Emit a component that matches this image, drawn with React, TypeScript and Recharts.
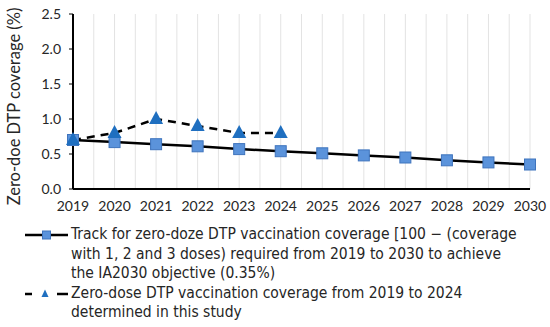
import { LineChart, Line, XAxis, YAxis, CartesianGrid, Label } from "recharts";

const years = [2019, 2020, 2021, 2022, 2023, 2024, 2025, 2026, 2027, 2028, 2029, 2030];
// track towards the IA2030 objective
const trackValues = [0.7, 0.67, 0.64, 0.61, 0.57, 0.54, 0.51, 0.48, 0.45, 0.41, 0.38, 0.35];
// coverage determined in the study, 2019-2024
const studyValues = [0.7, 0.8, 1.0, 0.9, 0.8, 0.8];
const yTicks = [0, 0.5, 1.0, 1.5, 2.0, 2.5];
// gridlines every half year; only whole years get a label
const xTicks = [
  2019, 2019.5, 2020, 2020.5, 2021, 2021.5, 2022, 2022.5, 2023, 2023.5, 2024, 2024.5,
  2025, 2025.5, 2026, 2026.5, 2027, 2027.5, 2028, 2028.5, 2029, 2029.5, 2030,
];
const trackLabel = [
  "Track for zero-doze DTP vaccination coverage [100 \u2212  (coverage",
  "with 1, 2 and 3 doses) required from 2019 to 2030 to achieve",
  "the IA2030 objective (0.35%)",
];
const studyLabel = ["Zero-dose DTP vaccination coverage from 2019 to 2024", "determined in this study"];

const FONT = "Lato, 'Open Sans', sans-serif";
const NARROW = "'Liberation Sans Narrow', 'DejaVu Sans Condensed', Lato, sans-serif";
const SQUARE_FILL = "#5b93db";
const SQUARE_STROKE = "#3f74bd";
const TRI_FILL = "#1f6fc0";

const data = years.map((year, i) => ({
  year,
  track: trackValues[i],
  study: i < studyValues.length ? studyValues[i] : null,
}));

function SquareDot(props: any) {
  const { cx, cy } = props;
  if (cx == null || cy == null) return null;
  return <rect x={cx - 5.5} y={cy - 5.5} width={11} height={11} fill={SQUARE_FILL} stroke={SQUARE_STROKE} strokeWidth={1} />;
}

function TriangleDot(props: any) {
  const { cx, cy } = props;
  if (cx == null || cy == null) return null;
  return <polygon points={`${cx},${cy - 8} ${cx - 7},${cy + 5} ${cx + 7},${cy + 5}`} fill={TRI_FILL} />;
}

function LegendBlock() {
  const textStyle = { fontSize: 15.5, lineHeight: "19.5px", color: "#262626", fontFamily: NARROW };
  return (
    <div style={{ position: "absolute", left: 23, top: 225, width: 520 }}>
      <div style={{ display: "flex", alignItems: "flex-start" }}>
        <svg width={48} height={19.5} style={{ flexShrink: 0 }}>
          <line x1={2} y1={10} x2={45} y2={10} stroke="#000" strokeWidth={2.5} />
          <rect x={19.5} y={6} width={8} height={8} fill={SQUARE_FILL} stroke={SQUARE_STROKE} />
        </svg>
        <div style={textStyle}>
          {trackLabel.map((t) => (
            <div key={t}>{t}</div>
          ))}
        </div>
      </div>
      <div style={{ display: "flex", alignItems: "flex-start" }}>
        <svg width={48} height={19.5} style={{ flexShrink: 0 }}>
          <line x1={2} y1={10} x2={9} y2={10} stroke="#000" strokeWidth={2.5} />
          <line x1={34} y1={10} x2={45} y2={10} stroke="#000" strokeWidth={2.5} />
          <polygon points="22,5.5 18.5,13 25.5,13" fill={TRI_FILL} />
        </svg>
        <div style={textStyle}>
          {studyLabel.map((t) => (
            <div key={t}>{t}</div>
          ))}
        </div>
      </div>
    </div>
  );
}

export default function App() {
  return (
    <div style={{ position: "absolute", left: 0, top: 0, width: 550, height: 327, background: "#fff" }}>
      <LineChart width={550} height={327} data={data} margin={{ top: 14, right: 20, bottom: 108, left: 0 }}>
        <CartesianGrid horizontal={false} stroke="#e3e3e3" strokeWidth={1} />
        <XAxis
          dataKey="year"
          type="number"
          domain={[2019, 2030]}
          ticks={xTicks}
          interval={0}
          tickFormatter={(v: number) => (Number.isInteger(v) ? String(v) : "")}
          tickLine={false}
          tickSize={6}
          tickMargin={6}
          axisLine={{ stroke: "#000", strokeWidth: 2 }}
          tick={{ fontSize: 14, fill: "#262626", fontFamily: FONT }}
          height={30}
        />
        <YAxis
          type="number"
          domain={[0, 2.5]}
          ticks={yTicks}
          tickFormatter={(v: number) => v.toFixed(1)}
          width={73}
          tickSize={4}
          tickMargin={8}
          tickLine={{ stroke: "#000" }}
          axisLine={{ stroke: "#000", strokeWidth: 2 }}
          tick={{ fontSize: 14, fill: "#262626", fontFamily: FONT }}
        >
          <Label
            value="Zero-doe DTP coverage (%)"
            angle={-90}
            position="center"
            dx={-22}
            dy={5}
            style={{ fontSize: 16.5, fill: "#262626", fontFamily: FONT, textAnchor: "middle" }}
          />
        </YAxis>
        <Line
          dataKey="track"
          stroke="#000"
          strokeWidth={2.5}
          dot={<SquareDot />}
          activeDot={false}
          isAnimationActive={false}
        />
        <Line
          dataKey="study"
          stroke="#000"
          strokeWidth={2.5}
          strokeDasharray="8 6"
          dot={<TriangleDot />}
          activeDot={false}
          connectNulls={false}
          isAnimationActive={false}
        />
      </LineChart>
      <LegendBlock />
    </div>
  );
}
